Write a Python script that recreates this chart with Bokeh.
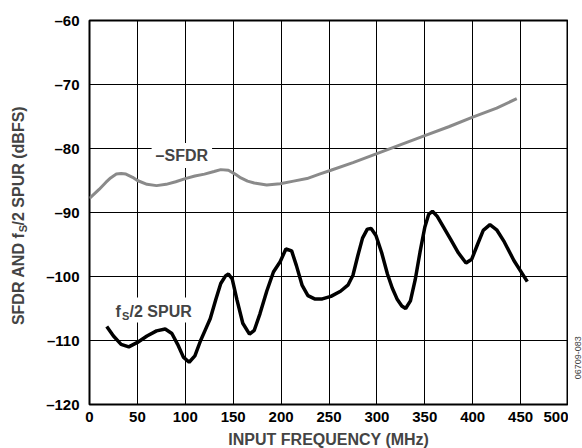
from bokeh.plotting import figure
from bokeh.models import Label, BoxAnnotation, Range1d, FixedTicker
from bokeh.layouts import row, column
from bokeh.embed import file_html
from bokeh.resources import INLINE
import math

# ---- data ----
sfdr_freq = [0, 10, 17, 22, 28, 33, 38, 45, 50, 60, 70, 80, 90, 100, 110, 120, 130, 137, 145,
             152, 158, 165, 172, 185, 199, 213, 227, 240, 252, 275, 300, 325, 350, 375, 400, 425, 446]
sfdr_val = [-87.8, -86.4, -85.3, -84.6, -84.0, -83.9, -84.0, -84.5, -85.0, -85.6, -85.8, -85.6, -85.2,
            -84.7, -84.3, -84.0, -83.6, -83.3, -83.4, -84.0, -84.6, -85.1, -85.4, -85.7, -85.5, -85.1,
            -84.7, -84.0, -83.4, -82.2, -80.8, -79.4, -78.0, -76.6, -75.1, -73.7, -72.2]

spur_freq = [18, 25, 33, 41, 50, 60, 70, 79, 86, 92, 98, 104, 110, 116, 121, 126, 132, 137, 142, 145,
             149, 154, 160, 167, 172, 178, 185, 192, 199, 205, 211, 216, 222, 228, 235, 243, 252, 262,
             270, 275, 280, 285, 290, 294, 299, 305, 311, 316, 321, 326, 330, 335, 340, 345, 350, 354,
             358, 363, 370, 377, 385, 393, 399, 405, 411, 418, 425, 433, 443, 457]
spur_val = [-107.8, -109.3, -110.6, -111.0, -110.3, -109.3, -108.5, -108.2, -108.9, -110.6, -112.6,
            -113.4, -112.4, -110.0, -108.3, -106.6, -103.5, -101.1, -99.9, -99.6, -100.4, -103.7,
            -107.3, -109.0, -108.4, -105.8, -102.3, -99.3, -97.7, -95.7, -96.0, -98.3, -101.4, -103.0,
            -103.5, -103.5, -103.1, -102.3, -101.3, -99.8, -96.8, -94.0, -92.6, -92.5, -93.6, -96.3,
            -99.6, -101.8, -103.5, -104.6, -105.0, -103.8, -100.5, -96.2, -92.3, -90.3, -89.8, -90.6,
            -92.4, -94.2, -96.3, -97.9, -97.3, -95.0, -92.8, -91.9, -92.7, -94.6, -97.5, -100.8]

x_ticks = [0, 50, 100, 150, 200, 250, 300, 350, 400, 450, 500]
y_ticks = [-120, -110, -100, -90, -80, -70, -60]
y_tick_labels = {t: "\u2013" + str(-t) for t in y_ticks}

FONT = "Liberation Sans"

LEFT_W, RIGHT_W, TOP_H, BOT_H = 40, 14, 428, 20
MAIN_W = 582 - LEFT_W - RIGHT_W


def blank(w, h):
    f = figure(width=w, height=h, output_backend="svg", toolbar_location=None,
               x_range=Range1d(0, w), y_range=Range1d(h, 0),
               x_axis_type=None, y_axis_type=None,
               min_border=0, min_border_left=0, min_border_right=0,
               min_border_top=0, min_border_bottom=0)
    f.outline_line_color = None
    f.grid.visible = False
    return f


p = figure(width=MAIN_W, height=TOP_H, output_backend="svg", toolbar_location=None,
           x_range=Range1d(0, 500), y_range=Range1d(-120, -60),
           min_border_left=49, min_border_right=0, min_border_top=20, min_border_bottom=24)

p.outline_line_color = "black"
p.outline_line_width = 2
p.outline_line_alpha = 1

for ax in (p.xaxis[0], p.yaxis[0]):
    ax.axis_line_color = None
    ax.major_tick_line_color = None
    ax.minor_tick_line_color = None
    ax.major_tick_out = 0
    ax.major_tick_in = 0
    ax.major_label_text_font = FONT
    ax.major_label_text_font_style = "bold"
    ax.major_label_text_font_size = "15px"
    ax.major_label_text_color = "black"

p.xaxis.ticker = FixedTicker(ticks=x_ticks)
p.yaxis.ticker = FixedTicker(ticks=y_ticks)
p.yaxis.major_label_overrides = y_tick_labels
p.xaxis.major_label_standoff = 7
p.yaxis.major_label_standoff = 10

p.xgrid.ticker = FixedTicker(ticks=x_ticks)
p.ygrid.ticker = FixedTicker(ticks=y_ticks)
p.grid.grid_line_color = "black"
p.grid.grid_line_width = 1
p.grid.grid_line_alpha = 1

p.line(sfdr_freq, sfdr_val, line_color="#8a8a8a", line_width=3)
p.line(spur_freq, spur_val, line_color="black", line_width=3.5)

# in-plot labels
p.add_layout(Label(x=96.4, y=-81.1, text="\u2013SFDR", text_align="center", text_baseline="middle",
                   text_font=FONT, text_font_style="bold", text_font_size="16px",
                   background_fill_color="white", padding=4))

p.add_layout(BoxAnnotation(left=24, right=110.6, top=-103.3, bottom=-107.2,
                           fill_color="white", fill_alpha=1, line_color=None))
p.add_layout(Label(x=27.1, y=-105.4, text="f", text_align="left", text_baseline="middle",
                   text_font=FONT, text_font_style="bold", text_font_size="16px"))
p.add_layout(Label(x=33.9, y=-106.1, text="S", text_align="left", text_baseline="middle",
                   text_font=FONT, text_font_style="bold", text_font_size="11px"))
p.add_layout(Label(x=41.8, y=-105.4, text="/2 SPUR", text_align="left", text_baseline="middle",
                   text_font=FONT, text_font_style="bold", text_font_size="16px"))

# y-axis title (with subscript), in a strip left of the plot
lf = blank(LEFT_W, TOP_H)
lf.add_layout(Label(x=18, y=236.5, text="SFDR AND f", angle=math.pi / 2, text_align="right",
                    text_baseline="middle", text_font=FONT, text_font_style="bold", text_font_size="16px"))
lf.add_layout(Label(x=22, y=236, text="S", angle=math.pi / 2, text_align="left",
                    text_baseline="middle", text_font=FONT, text_font_style="bold", text_font_size="11px"))
lf.add_layout(Label(x=18, y=228.4, text="/2 SPUR (dBFS)", angle=math.pi / 2, text_align="left",
                    text_baseline="middle", text_font=FONT, text_font_style="bold", text_font_size="16px"))

# figure id at the right
rf = blank(RIGHT_W, TOP_H)
rf.add_layout(Label(x=9.5, y=376, text="06709-083", angle=math.pi / 2, text_align="center",
                    text_baseline="middle", text_font=FONT, text_font_size="9px", text_color="#444444"))

# x-axis title below
bf = blank(582, BOT_H)
bf.add_layout(Label(x=328.3, y=10.5, text="INPUT FREQUENCY (MHz)", text_align="center",
                    text_baseline="middle", text_font=FONT, text_font_style="bold", text_font_size="16px"))

layout = column(row(lf, p, rf, spacing=0), bf, spacing=0)

open("out.html", "w").write(file_html(layout, INLINE))
